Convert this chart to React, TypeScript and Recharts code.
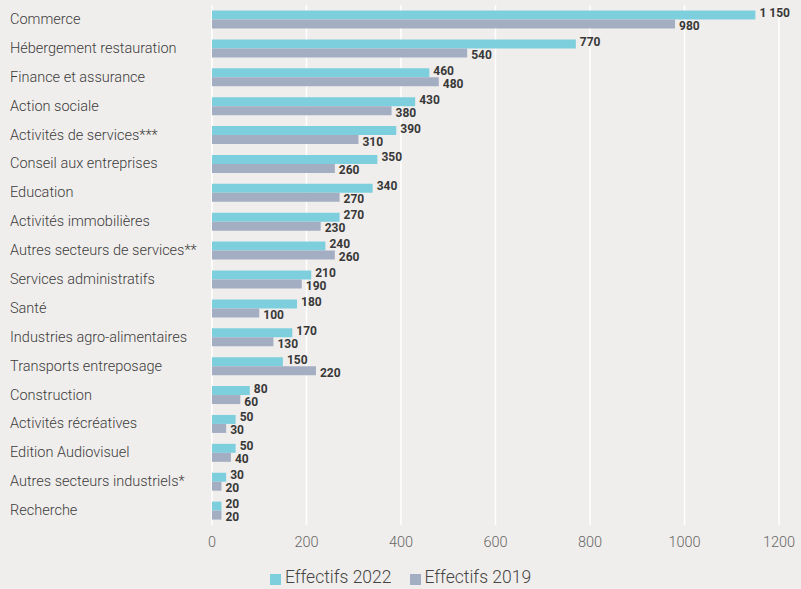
import React from "react"
import {
  BarChart,
  Bar,
  XAxis,
  YAxis,
  CartesianGrid,
  Legend,
  LabelList,
} from "recharts"

const categories = [
  "Commerce",
  "Hébergement restauration",
  "Finance et assurance",
  "Action sociale",
  "Activités de services***",
  "Conseil aux entreprises",
  "Education",
  "Activités immobilières",
  "Autres secteurs de services**",
  "Services administratifs",
  "Santé",
  "Industries agro-alimentaires",
  "Transports entreposage",
  "Construction",
  "Activités récréatives",
  "Edition Audiovisuel",
  "Autres secteurs industriels*",
  "Recherche",
]

const effectifs2022 = [1150, 770, 460, 430, 390, 350, 340, 270, 240, 210, 180, 170, 150, 80, 50, 50, 30, 20]
const effectifs2019 = [980, 540, 480, 380, 310, 260, 270, 230, 260, 190, 100, 130, 220, 60, 30, 40, 20, 20]

const xTicks = [0, 200, 400, 600, 800, 1000, 1200]

const seriesNames = ["Effectifs 2022", "Effectifs 2019"]
const seriesColors = ["#7ecfde", "#a4aec3"]

const data = categories.map((name, i) => ({
  name,
  y2022: effectifs2022[i],
  y2019: effectifs2019[i],
}))

const fmt = (v: number) => {
  const s = String(v)
  return v >= 1000 ? s.slice(0, s.length - 3) + " " + s.slice(-3) : s
}

const FONT = "Roboto, 'Open Sans', sans-serif"

const makeLabel = (dy: number) => (props: any) => {
  const { x, y, width, height, value } = props
  return (
    <text
      x={x + width + 4}
      y={y + height / 2 + dy}
      dominantBaseline="central"
      fontSize={12}
      fontWeight={700}
      fill="#383838"
      fontFamily={FONT}
    >
      {fmt(value)}
    </text>
  )
}

const CategoryTick = (props: any) => {
  const { y, payload } = props
  return (
    <text x={10} y={y} dominantBaseline="central" fontSize={14.5} fill="#3c3c3c" fontFamily={FONT} fontWeight={300}>
      {payload.value}
    </text>
  )
}

const LegendContent = () => (
  <div style={{ display: "flex", justifyContent: "center", gap: 18, fontFamily: FONT, fontWeight: 300 }}>
    {seriesNames.map((n, i) => (
      <div key={n} style={{ display: "flex", alignItems: "center" }}>
        <span style={{ display: "inline-block", width: 11, height: 11, background: seriesColors[i], marginRight: 4, marginTop: 4 }} />
        <span style={{ color: "#444", fontSize: 17.5 }}>{n}</span>
      </div>
    ))}
  </div>
)

export default function App() {
  return (
    <div style={{ position: "absolute", left: 0, top: 0, width: 801, height: 589, background: "#f0eeec" }}>
      <BarChart
        width={801}
        height={589}
        data={data}
        layout="vertical"
        margin={{ top: 5, right: 22, left: 0, bottom: 6 }}
        barCategoryGap="19%"
        barGap={0}
      >
        <CartesianGrid horizontal={false} stroke="#ffffff" strokeWidth={1.5} />
        <XAxis
          type="number"
          domain={[0, 1200]}
          ticks={xTicks}
          axisLine={false}
          tickLine={false}
          tick={{ fontSize: 14.5, fill: "#666", fontFamily: FONT, fontWeight: 300 }}
          height={30}
          dy={4}
        />
        <YAxis
          type="category"
          dataKey="name"
          width={212}
          axisLine={false}
          tickLine={false}
          tick={<CategoryTick />}
          interval={0}
        />
        <Legend verticalAlign="bottom" height={28} content={<LegendContent />} wrapperStyle={{ bottom: -6, left: 0, width: 801 }} />
        <Bar dataKey="y2022" name={seriesNames[0]} fill={seriesColors[0]} isAnimationActive={false}>
          <LabelList dataKey="y2022" content={makeLabel(-2)} />
        </Bar>
        <Bar dataKey="y2019" name={seriesNames[1]} fill={seriesColors[1]} isAnimationActive={false}>
          <LabelList dataKey="y2019" content={makeLabel(2)} />
        </Bar>
      </BarChart>
    </div>
  )
}
